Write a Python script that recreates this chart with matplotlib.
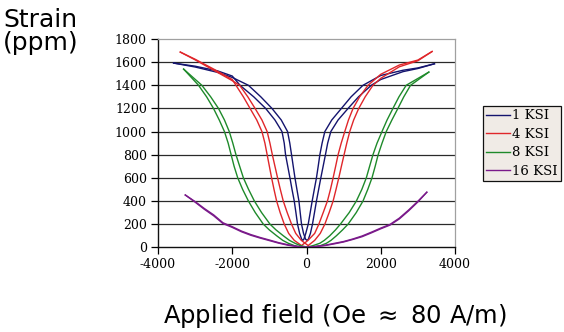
# Butterfly strain curves for four stress levels
import matplotlib
matplotlib.use("Agg")
import matplotlib.pyplot as plt

plt.rcParams["axes.unicode_minus"] = False

# 1 KSI (two branches of the loop)
ksi1_a_x = [-3580, -3000, -2400, -2000, -1790, -1420, -1100, -850, -660, -600, -564, -505, -446, -390, -330, -285, -242, -185, -130, -100,
            -70, -20, 46, 100, 153, 210, 268, 315, 360, 420, 494, 680, 940, 1200, 1522, 2000, 2600, 3000, 3447]
ksi1_a_y = [1592, 1565, 1525, 1480, 1400, 1300, 1200, 1100, 1000, 900, 800, 700, 600, 500, 400, 300, 200, 120, 70, 60,
            70, 120, 200, 300, 400, 500, 600, 700, 800, 900, 1000, 1100, 1200, 1300, 1400, 1485, 1530, 1550, 1586]
ksi1_b_x = [-3580, -3000, -2400, -2000, -1565, -1230, -930, -680, -510, -450, -403, -357, -311, -258, -204, -170, -134, -80, -25, 15,
            50, 105, 161, 215, 268, 327, 386, 448, 510, 570, 655, 850, 1120, 1400, 1745, 2000, 2600, 3000, 3447]
ksi1_b_y = [1592, 1558, 1512, 1468, 1400, 1300, 1200, 1100, 1000, 900, 800, 700, 600, 500, 400, 300, 200, 120, 70, 60,
            70, 120, 200, 300, 400, 500, 600, 700, 800, 900, 1000, 1100, 1200, 1300, 1400, 1450, 1518, 1545, 1586]

# 4 KSI
ksi4_a_x = [-3400, -3000, -2500, -2000, -1900, -1700, -1520, -1340, -1200, -1120, -1060, -1000, -940, -875, -805, -710, -599, -480, -330, -133,
            40, 220, 333, 450, 564, 645, 717, 785, 851, 935, 1031, 1130, 1254, 1430, 1657, 2000, 2500, 3000, 3383]
ksi4_a_y = [1687, 1625, 1540, 1450, 1400, 1300, 1200, 1100, 1000, 900, 800, 700, 600, 500, 400, 300, 200, 120, 60, 15,
            60, 120, 200, 300, 400, 500, 600, 700, 800, 900, 1000, 1100, 1200, 1300, 1400, 1495, 1575, 1618, 1692]
ksi4_b_x = [-3400, -3000, -2500, -2000, -1800, -1580, -1385, -1200, -1060, -985, -920, -850, -779, -705, -626, -520, -403, -290, -140, 45,
            220, 370, 494, 610, 717, 795, 870, 940, 1012, 1085, 1165, 1270, 1407, 1580, 1790, 2000, 2500, 3000, 3383]
ksi4_b_y = [1687, 1620, 1530, 1440, 1400, 1300, 1200, 1100, 1000, 900, 800, 700, 600, 500, 400, 300, 200, 120, 60, 15,
            60, 120, 200, 300, 400, 500, 600, 700, 800, 900, 1000, 1100, 1200, 1300, 1400, 1460, 1560, 1612, 1692]

# 8 KSI
ksi8_a_x = [-3310, -2908, -2690, -2505, -2350, -2210, -2110, -2030, -1950, -1852, -1720, -1565, -1380, -1163, -1000, -805, -640, -491, -330, -200, -65,
            60, 180, 360, 480, 628, 780, 913, 1150, 1343, 1490, 1611, 1700, 1790, 1900, 2033, 2170, 2328, 2490, 2685, 3295]
ksi8_a_y = [1540, 1400, 1300, 1200, 1100, 1000, 900, 800, 700, 600, 500, 400, 300, 200, 150, 100, 60, 35, 15, 5, 2,
            5, 15, 35, 60, 100, 150, 200, 300, 400, 500, 600, 700, 800, 900, 1000, 1100, 1200, 1300, 1400, 1514]
ksi8_b_x = [-3310, -2819, -2580, -2371, -2210, -2080, -1985, -1900, -1800, -1700, -1560, -1404, -1210, -983, -820, -626, -460, -311, -170, -30, 113,
            240, 380, 537, 660, 806, 970, 1120, 1340, 1522, 1650, 1764, 1850, 1930, 2035, 2148, 2300, 2462, 2620, 2803, 3295]
ksi8_b_y = [1540, 1400, 1300, 1200, 1100, 1000, 900, 800, 700, 600, 500, 400, 300, 200, 150, 100, 60, 35, 15, 5, 2,
            5, 15, 35, 60, 100, 150, 200, 300, 400, 500, 600, 700, 800, 900, 1000, 1100, 1200, 1300, 1400, 1514]

# 16 KSI
ksi16_a_x = [-3265, -3000, -2750, -2500, -2250, -2000, -1750, -1500, -1250, -1000, -750, -500, -250, 0,
             250, 500, 750, 1000, 1250, 1500, 1750, 2000, 2250, 2500, 2750, 3000, 3241]
ksi16_a_y = [452, 395, 335, 280, 212, 178, 140, 110, 85, 63, 40, 22, 8, 0,
             6, 15, 30, 46, 68, 92, 125, 160, 192, 245, 315, 392, 476]
ksi16_b_x = [-3265, -3000, -2750, -2500, -2250, -2000, -1750, -1500, -1250, -1000, -750, -500, -250, 0,
             250, 500, 750, 1000, 1250, 1500, 1750, 2000, 2250, 2500, 2750, 3000, 3241]
ksi16_b_y = [452, 390, 328, 272, 205, 172, 134, 104, 80, 58, 36, 18, 6, 0,
             8, 18, 34, 50, 72, 98, 131, 166, 198, 252, 322, 398, 476]

labels = ["1 KSI", "4 KSI", "8 KSI", "16 KSI"]
colors = ["#14146e", "#e0262a", "#1e8a2a", "#7a1a8a"]
y_ticks = [0, 200, 400, 600, 800, 1000, 1200, 1400, 1600, 1800]
x_ticks = [-4000, -2000, 0, 2000, 4000]

series = [
    (ksi1_a_x, ksi1_a_y, ksi1_b_x, ksi1_b_y),
    (ksi4_a_x, ksi4_a_y, ksi4_b_x, ksi4_b_y),
    (ksi8_a_x, ksi8_a_y, ksi8_b_x, ksi8_b_y),
    (ksi16_a_x, ksi16_a_y, ksi16_b_x, ksi16_b_y),
]

fig = plt.figure(figsize=(5.64, 3.32), dpi=100)
ax = fig.add_axes([158 / 564, 1 - 247.3 / 332, 297 / 564, 208.3 / 332])

# horizontal grid lines
for yv in y_ticks[1:-1]:
    ax.axhline(yv, color="#2a2a2a", lw=0.9, zorder=1)

for (ax_x, ax_y, bx, by), lab, col in zip(series, labels, colors):
    ax.plot(ax_x, ax_y, color=col, lw=1.0, label=lab, zorder=3)
    ax.plot(bx, by, color=col, lw=1.0, zorder=3)

ax.set_xlim(-4000, 4000)
ax.set_ylim(0, 1800)
ax.set_xticks(x_ticks)
ax.set_yticks(y_ticks)
ax.tick_params(axis="both", direction="out", length=5, width=0.9, labelsize=9, pad=3)
for lbl in ax.get_xticklabels() + ax.get_yticklabels():
    lbl.set_family("DejaVu Serif")

for side in ["left", "bottom"]:
    ax.spines[side].set_color("#111111")
    ax.spines[side].set_linewidth(1.0)
for side in ["top", "right"]:
    ax.spines[side].set_color("#a0a0a0")
    ax.spines[side].set_linewidth(0.9)

leg = fig.legend(loc="upper left", bbox_to_anchor=(483 / 564, 1 - 106 / 332),
                 borderaxespad=0, prop={"family": "DejaVu Serif", "size": 9.5},
                 handlelength=1.8, handletextpad=0.15, labelspacing=0.42,
                 borderpad=0.25, fancybox=False, framealpha=1)
leg.get_frame().set_facecolor("#f0ebe6")
leg.get_frame().set_edgecolor("#111111")
leg.get_frame().set_linewidth(0.9)

fig.text(3 / 564, 1 - 27 / 332, "Strain", fontsize=18, ha="left", va="baseline")
fig.text(3 / 564, 1 - 50 / 332, "(ppm)", fontsize=18, ha="left", va="baseline")
fig.text(335 / 564, 1 - 323 / 332, "Applied field (Oe $\\approx$ 80 A/m)", fontsize=17.5,
         ha="center", va="baseline")

fig.savefig("out.png", dpi=100)
